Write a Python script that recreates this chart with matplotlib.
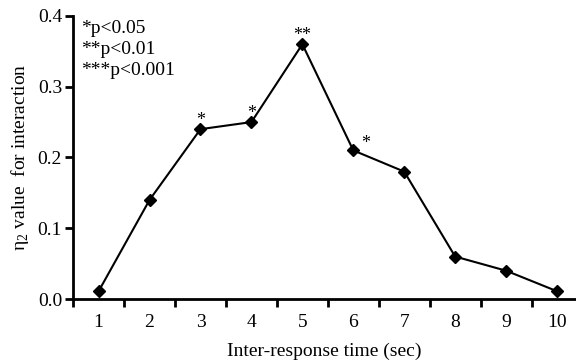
import matplotlib
matplotlib.use("Agg")
import matplotlib.pyplot as plt

# data
times = [1, 2, 3, 4, 5, 6, 7, 8, 9, 10]
eta2 = [0.011, 0.14, 0.24, 0.25, 0.36, 0.21, 0.18, 0.06, 0.04, 0.011]
stars = ["", "", "*", "*", "**", "*", "", "", "", ""]
legend_lines = ["*p<0.05", "**p<0.01", "***p<0.001"]

plt.rcParams["font.family"] = ["Liberation Serif", "DejaVu Serif"]
plt.rcParams["mathtext.fontset"] = "custom"
plt.rcParams["mathtext.rm"] = "Liberation Serif"

fig = plt.figure(figsize=(5.76, 3.62), dpi=100)
ax = fig.add_axes([0.127, 0.174, 0.871, 0.782])

ax.plot(times, eta2, color="black", linewidth=1.5, marker="D", markersize=6,
        markerfacecolor="black", markeredgecolor="black", zorder=3)

# significance marks
for t, v, s in zip(times, eta2, stars):
    if not s:
        continue
    if t == 6:
        ax.annotate(s, (t, v), xytext=(9, -1), textcoords="offset points",
                    ha="center", va="bottom", fontsize=13)
    else:
        ax.annotate(s, (t, v), xytext=(0, 0), textcoords="offset points",
                    ha="center", va="bottom", fontsize=13)

ax.text(0.66, 0.394, "\n".join(legend_lines), ha="left", va="top",
        fontsize=14, linespacing=1.3)

ax.set_xlim(0.5, 10.35)
ax.set_ylim(0, 0.4)
ax.set_yticks([0.0, 0.1, 0.2, 0.3, 0.4])
ax.set_yticklabels(["0.0", "0.1", "0.2", "0.3", "0.4"])
ax.set_xticks(times)
ax.set_xticks([t - 0.5 for t in times], minor=True)
ax.tick_params(axis="x", which="major", length=0, labelsize=14, pad=11)
ax.tick_params(axis="x", which="minor", length=6, width=2, direction="out")
ax.tick_params(axis="y", length=6, width=2, labelsize=14, pad=2)

for side in ["top", "right"]:
    ax.spines[side].set_visible(False)
for side in ["left", "bottom"]:
    ax.spines[side].set_linewidth(2)

ax.set_xlabel("Inter-response time (sec)", fontsize=14, labelpad=8)
ax.set_ylabel("η$_2$ value  for interaction", fontsize=14, labelpad=5)

fig.savefig("out.png", dpi=100)
plt.close(fig)
